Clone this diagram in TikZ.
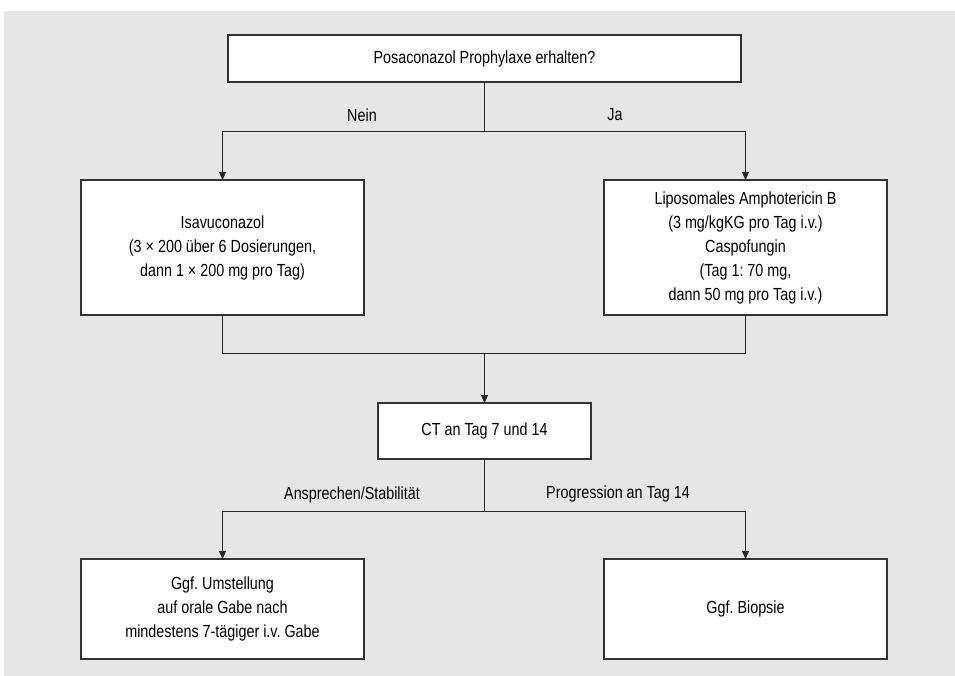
\documentclass[tikz,border=0pt]{standalone}
\usepackage{fontspec}
\setmainfont[FakeStretch=0.82]{Liberation Sans}
\frenchspacing
\usetikzlibrary{arrows.meta}
\definecolor{bggray}{HTML}{E6E6E6}
\definecolor{boxline}{HTML}{333333}
\tikzset{
  box/.style={draw=boxline, line width=1.3pt, fill=white, inner sep=0pt, outer sep=0pt,
    align=center, font=\fontsize{17.5}{24}\selectfont},
  conn/.style={draw=black!85, line width=0.9pt},
  arr/.style={conn, -{Triangle[length=8pt,width=7pt]}},
  lbl/.style={font=\fontsize{17.5}{24}\selectfont, inner sep=0pt}
}
\begin{document}
\begin{tikzpicture}[x=1pt,y=-1pt]
\useasboundingbox (0,0) rectangle (955,676);
\fill[bggray] (4,11) rectangle (955,676);

\node[box, minimum width=513, minimum height=47] (top) at (484.5,58.5) {Posaconazol Prophylaxe erhalten?};
\node[box, minimum width=283, minimum height=135] (left) at (222.5,247.5) {Isavuconazol\\(3 × 200 über 6 Dosierungen,\\dann 1 × 200 mg pro Tag)};
\node[box, minimum width=283, minimum height=135] (right) at (745.5,247.5) {Liposomales Amphotericin B\\(3 mg/kgKG pro Tag i.v.)\\Caspofungin\\(Tag 1: 70 mg,\\dann 50 mg pro Tag i.v.)};
\node[box, minimum width=213, minimum height=56] (ct) at (484.5,431) {CT an Tag 7 und 14};
\node[box, minimum width=283, minimum height=100] (bl) at (222.5,609) {Ggf. Umstellung\\auf orale Gabe nach\\mindestens 7-tägiger i.v. Gabe};
\node[box, minimum width=283, minimum height=100] (br) at (745.5,609) {Ggf. Biopsie};

\coordinate (j1) at (484.5,131);
\coordinate (j2) at (484.5,353);
\coordinate (j3) at (484.5,511);

\draw[conn] (top.south) -- (j1);
\draw[arr] (j1) -| (left.north);
\draw[arr] (j1) -| (right.north);
\node[lbl] (nein) at (362,115) {Nein};
\node[lbl] (ja) at (615,115) {Ja};

\draw[conn] (left.south) |- (j2);
\draw[conn] (right.south) |- (j2);
\draw[arr] (j2) -- (ct.north);

\draw[conn] (ct.south) -- (j3);
\draw[arr] (j3) -| (bl.north);
\draw[arr] (j3) -| (br.north);
\node[lbl] (resp) at (352,495) {Ansprechen/Stabilität};
\node[lbl] (prog) at (618,494) {Progression an Tag 14};
\end{tikzpicture}
\end{document}
